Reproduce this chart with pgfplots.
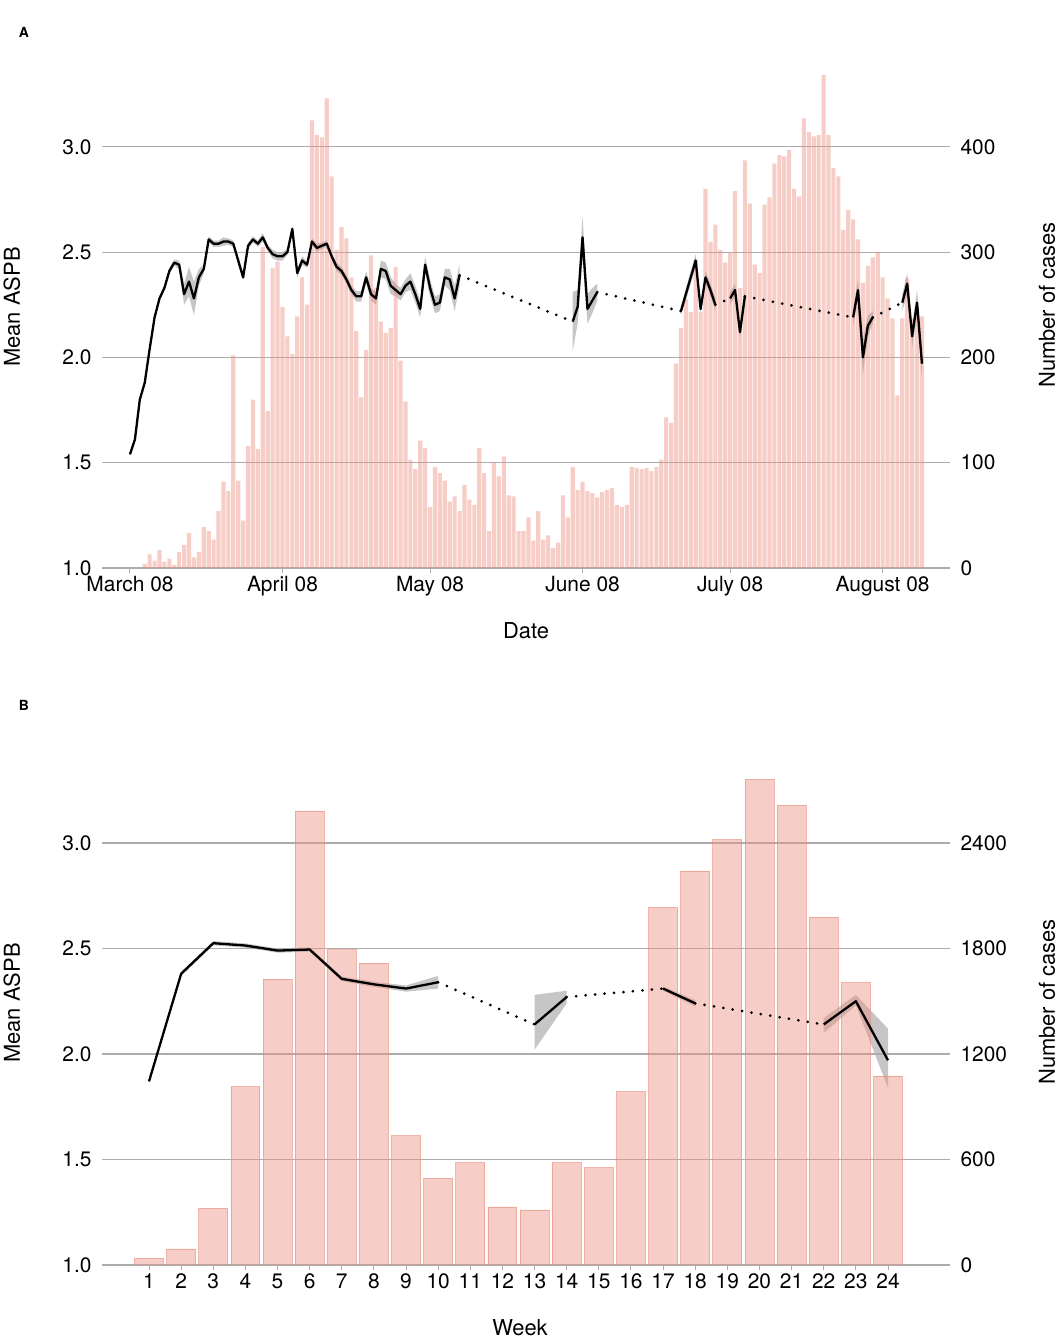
\documentclass[border=0pt]{standalone}
\usepackage{fontspec}
\setmainfont{TeX Gyre Heros}
\usepackage{pgfplots}
\pgfplotsset{compat=1.18}
\usepgfplotslibrary{fillbetween}
\usepackage{pgfplotstable}

\definecolor{barc}{RGB}{236,146,130}
\definecolor{bared}{RGB}{232,140,124}
\definecolor{gridc}{RGB}{172,172,172}
\definecolor{bandc}{RGB}{198,198,198}

\pgfplotstableread{
d n
3 4
4 13
5 7
6 17
7 6
8 9
9 3
10 15
11 22
12 33
13 10
14 15
15 39
16 35
17 27
18 54
19 82
20 73
21 202
22 83
23 45
24 116
25 160
26 113
27 305
28 149
29 285
30 291
31 248
32 220
33 203
34 239
35 276
36 250
37 425
38 411
39 409
40 446
41 372
42 302
43 324
44 313
45 276
46 225
47 162
48 207
49 297
50 266
51 234
52 223
53 228
54 286
55 197
56 158
57 103
58 94
59 121
60 114
61 58
62 96
63 90
64 83
65 63
66 68
67 54
68 79
69 65
70 60
71 114
72 90
73 35
74 100
75 87
76 106
77 69
78 68
79 35
80 35
81 48
82 26
83 54
84 27
85 31
86 19
87 24
88 69
89 48
90 96
91 74
92 82
93 73
94 71
95 67
96 72
97 74
98 76
99 60
100 58
101 60
102 96
103 95
104 94
105 95
106 92
107 96
108 103
109 143
110 138
111 194
112 228
113 255
114 243
115 293
116 243
117 360
118 310
119 326
120 302
121 290
122 300
123 358
124 266
125 387
126 346
127 288
128 280
129 345
130 352
131 384
132 392
133 391
134 397
135 360
136 353
137 427
138 414
139 410
140 411
141 468
142 411
143 380
144 372
145 321
146 340
147 331
148 312
149 271
150 287
151 295
152 300
153 276
154 256
155 237
156 164
157 237
158 275
159 237
160 239
161 239
}\barsA

\pgfplotstableread{
d v e
0 1.54 0.01
1 1.61 0.01
2 1.80 0.01
3 1.88 0.01
4 2.04 0.01
5 2.19 0.01
6 2.28 0.01
7 2.33 0.01
8 2.41 0.015
9 2.45 0.015
10 2.44 0.02
11 2.30 0.05
12 2.36 0.07
13 2.28 0.08
14 2.38 0.04
15 2.42 0.02
16 2.56 0.015
17 2.54 0.015
18 2.54 0.015
19 2.55 0.02
20 2.55 0.015
21 2.54 0.015
22 2.46 0.015
23 2.38 0.015
24 2.53 0.015
25 2.56 0.015
26 2.54 0.015
27 2.57 0.02
28 2.52 0.015
29 2.49 0.02
30 2.48 0.02
31 2.48 0.02
32 2.50 0.015
33 2.61 0.015
34 2.40 0.02
35 2.46 0.02
36 2.44 0.015
37 2.55 0.015
38 2.52 0.02
39 2.53 0.015
40 2.54 0.015
41 2.48 0.015
42 2.43 0.02
43 2.41 0.02
44 2.37 0.02
45 2.32 0.02
46 2.29 0.025
47 2.29 0.025
48 2.38 0.03
49 2.30 0.03
50 2.28 0.03
51 2.42 0.04
52 2.41 0.04
53 2.34 0.04
54 2.32 0.03
55 2.30 0.03
56 2.34 0.03
57 2.36 0.04
58 2.30 0.04
59 2.23 0.04
60 2.44 0.04
61 2.33 0.04
62 2.25 0.04
63 2.26 0.04
64 2.38 0.04
65 2.37 0.05
66 2.28 0.06
67 2.39 0.05
}\segAa

\pgfplotstableread{
d v e
90 2.17 0.14
91 2.24 0.08
92 2.57 0.1
93 2.23 0.07
94 2.27 0.06
95 2.31 0.04
}\segAb

\pgfplotstableread{
d v e
112 2.22 0.02
113 2.30 0.03
114 2.38 0.03
115 2.46 0.03
116 2.23 0.02
117 2.38 0.03
118 2.32 0.03
119 2.25 0.03
}\segAc

\pgfplotstableread{
d v e
122 2.28 0.03
123 2.32 0.03
124 2.12 0.03
125 2.29 0.03
}\segAd

\pgfplotstableread{
d v e
147 2.19 0.04
148 2.32 0.05
149 2.00 0.08
150 2.15 0.05
151 2.19 0.03
}\segAe

\pgfplotstableread{
d v e
157 2.26 0.04
158 2.35 0.05
159 2.10 0.05
160 2.26 0.06
161 1.97 0.07
}\segAf

\pgfplotstableread{
w n
1 38
2 91
3 322
4 1014
5 1625
6 2582
7 1792
8 1716
9 736
10 493
11 582
12 330
13 313
14 582
15 554
16 986
17 2034
18 2241
19 2419
20 2762
21 2614
22 1978
23 1606
24 1075
}\barsB

\pgfplotstableread{
d v lo hi
1 1.87 1.86 1.88
2 2.38 2.37 2.39
3 2.525 2.515 2.535
4 2.514 2.504 2.524
5 2.49 2.48 2.50
6 2.495 2.485 2.505
7 2.356 2.345 2.367
8 2.33 2.318 2.342
9 2.31 2.295 2.325
10 2.34 2.31 2.37
}\segBa

\pgfplotstableread{
d v lo hi
13 2.14 2.02 2.28
14 2.27 2.24 2.30
}\segBb

\pgfplotstableread{
d v lo hi
17 2.31 2.30 2.32
18 2.24 2.225 2.255
}\segBc

\pgfplotstableread{
d v lo hi
22 2.14 2.10 2.17
23 2.25 2.23 2.28
24 1.97 1.84 2.12
}\segBd

\newcommand{\bandA}[2]{%
 \addplot[draw=none, forget plot, name path=#2u] table[x=d, y expr=\thisrow{v}+\thisrow{e}] {#1};
 \addplot[draw=none, forget plot, name path=#2l] table[x=d, y expr=\thisrow{v}-\thisrow{e}] {#1};
 \addplot[bandc, draw=none, forget plot] fill between[of=#2u and #2l];
 \addplot[black, line width=2.3bp, line join=round] table[x=d, y=v] {#1};
}
\newcommand{\bandB}[2]{%
 \addplot[draw=none, forget plot, name path=#2u] table[x=d, y=hi] {#1};
 \addplot[draw=none, forget plot, name path=#2l] table[x=d, y=lo] {#1};
 \addplot[bandc, draw=none, forget plot] fill between[of=#2u and #2l];
 \addplot[black, line width=2.3bp, line join=round] table[x=d, y=v] {#1};
}

\pgfplotsset{
  base/.style={
    scale only axis, width=848bp, height=497bp, anchor=south west,
    font=\fontsize{21}{24}\selectfont,
    /pgf/number format/assume math mode=true,
    axis line style={draw=none},
    tick align=outside,
    major tick length=5bp,
    xtick style={draw=gridc, line width=1bp},
    ytick style={draw=none},
  },
  dotl/.style={black, line width=3bp, line cap=round, dash pattern=on 0bp off 9.5bp},
}

\begin{document}
\begin{tikzpicture}

% ---------------- Panel A ----------------
\begin{axis}[base, at={(102bp,771bp)},
  xmin=-5.69, xmax=166.7, ymin=0, ymax=472,
  axis x line*=bottom, axis y line*=right,
  xtick={0,31,61,92,122,153},
  xticklabels={March 08,April 08,May 08,June 08,July 08,August 08},
  ytick={0,100,200,300,400},
  ymajorgrids, grid style={gridc, line width=1.1bp},
  yticklabel style={xshift=2bp},
]
\addplot[ybar, bar width=0.84, fill=barc, fill opacity=0.45, draw=none] table[x=d, y=n] {\barsA};
\end{axis}

\begin{axis}[base, at={(102bp,771bp)},
  xmin=-5.69, xmax=166.7, ymin=1, ymax=3.36,
  axis x line=none, axis y line*=left,
  ytick={1,1.5,2,2.5,3},
  yticklabels={1.0,1.5,2.0,2.5,3.0},
  yticklabel style={xshift=-2bp},
]
\addplot[dotl] coordinates {(67,2.39) (90,2.17)};
\addplot[dotl] coordinates {(95,2.31) (112,2.22)};
\addplot[dotl] coordinates {(119,2.25) (122,2.28)};
\addplot[dotl] coordinates {(125,2.29) (147,2.19)};
\addplot[dotl] coordinates {(151,2.19) (157,2.26)};
\bandA{\segAa}{aa}
\bandA{\segAb}{ab}
\bandA{\segAc}{ac}
\bandA{\segAd}{ad}
\bandA{\segAe}{ae}
\bandA{\segAf}{af}
\end{axis}

% ---------------- Panel B ----------------
\begin{axis}[base, at={(102bp,74bp)}, height=498bp,
  xmin=-0.463, xmax=25.93, ymin=0, ymax=2832,
  axis x line*=bottom, axis y line*=right,
  xtick={1,2,...,24},
  ytick={0,600,1200,1800,2400},
  ymajorgrids, grid style={gridc, line width=1.1bp},
  yticklabel style={xshift=2bp},
  scaled y ticks=false,
  yticklabel={\pgfmathprintnumber[fixed,1000 sep={}]{\tick}},
]
\addplot[ybar, bar width=0.9, fill=barc, fill opacity=0.45, draw=bared, draw opacity=0.6, line width=0.8bp] table[x=w, y=n] {\barsB};
\end{axis}

\begin{axis}[base, at={(102bp,74bp)}, height=498bp,
  xmin=-0.463, xmax=25.93, ymin=1, ymax=3.36,
  axis x line=none, axis y line*=left,
  ytick={1,1.5,2,2.5,3},
  yticklabels={1.0,1.5,2.0,2.5,3.0},
  yticklabel style={xshift=-2bp},
]
\addplot[dotl] coordinates {(10,2.34) (13,2.14)};
\addplot[dotl] coordinates {(14,2.27) (17,2.31)};
\addplot[dotl] coordinates {(18,2.24) (22,2.14)};
\bandB{\segBa}{ba}
\bandB{\segBb}{bb}
\bandB{\segBc}{bc}
\bandB{\segBd}{bd}
\end{axis}

% ---------------- Labels ----------------
\begin{scope}[font=\fontsize{22}{25}\selectfont]
\node[rotate=90] at (12bp,1032bp) {Mean ASPB};
\node[rotate=90] at (1047bp,1034bp) {Number of cases};
\node at (526bp,708bp) {Date};
\node[rotate=90] at (12bp,336bp) {Mean ASPB};
\node[rotate=90] at (1047bp,337bp) {Number of cases};
\node at (520bp,11bp) {Week};
\end{scope}
\node[font=\fontsize{14}{16}\selectfont\bfseries] at (24bp,1307bp) {A};
\node[font=\fontsize{14}{16}\selectfont\bfseries] at (24bp,634bp) {B};

\pgfresetboundingbox
\path[use as bounding box] (0,0) rectangle (1057bp,1339bp);
\end{tikzpicture}
\end{document}
